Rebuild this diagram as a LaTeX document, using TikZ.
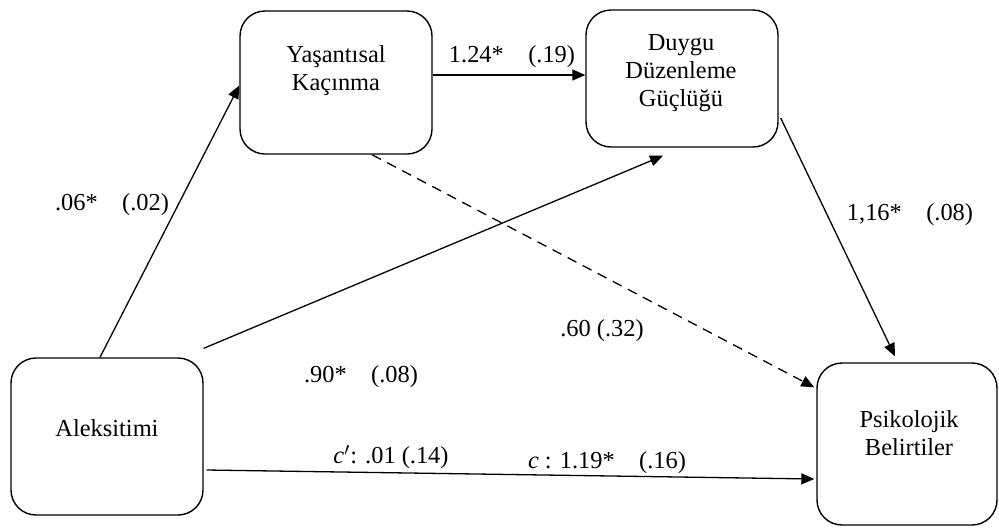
\documentclass[tikz,border=0pt]{standalone}
\usepackage{fontspec}
\setmainfont{Liberation Serif}
\usetikzlibrary{arrows.meta,positioning,calc}

\tikzset{
  kutu/.style={draw, line width=0.7pt, rounded corners=12.5pt, inner sep=0pt},
  ok/.style={line width=0.65pt, -{Triangle[length=6.5pt,width=5.5pt]}},
  yazi/.style={inner sep=0pt, align=center},
}

\begin{document}
\begin{tikzpicture}[x=0.5pt, y=-0.5pt, font=\fontsize{12.2}{14}\selectfont]
    \useasboundingbox (0,0) rectangle (999,527);
    % kutular
    \node[kutu, minimum width=96pt, minimum height=71.5pt] (yk) at (336,82.5) {};
    \node[kutu, minimum width=96pt, minimum height=68.5pt] (ddg) at (682,78.5) {};
    \node[kutu, minimum width=96pt, minimum height=78.5pt] (al) at (107,436.5) {};
    \node[kutu, minimum width=90pt, minimum height=81pt] (pb) at (907,444) {};
    \node[yazi] (ykyazi) at (336,71) {Yaşantısal\\Kaçınma};
    \node[yazi] (ddgyazi) at (681,73) {Duygu\\Düzenleme\\Güçlüğü};
    \node[yazi] (alyazi) at (107,428) {Aleksitimi};
    \node[yazi] (pbyazi) at (909,433.5) {Psikolojik\\Belirtiler};

    % oklar
    \draw[ok] ([xshift=-3.5pt]al.north) -- ([yshift=-1.5pt]yk.west);
    \draw[ok] ([yshift=3.75pt]yk.east) -- ([yshift=3.75pt]yk.east -| ddg.west);
    \draw[ok] ([yshift=4.5pt]al.north east) -- ([xshift=-9.5pt,yshift=-4pt]ddg.south);
    \draw[ok, dash pattern=on 5pt off 3.5pt] ([xshift=18pt]yk.south) -- ([xshift=-1pt,yshift=-12.5pt]pb.north west);
    \draw[ok] ([xshift=1pt,yshift=-19.75pt]ddg.east) -- ([xshift=-6pt,yshift=3pt]pb.north);
    \draw[ok] ([xshift=1.5pt,yshift=-16.75pt]al.east) -- ([xshift=-1pt,yshift=-17.5pt]pb.west);

    % katsayilar
    \node[yazi] (a1) at (112,205) {.06*\quad(.02)};
    \node[yazi] (a2) at (512,57) {1.24*\quad(.19)};
    \node[yazi] (a3) at (910,215) {1,16*\quad(.08)};
    \node[yazi] (a4) at (602,331) {.60 (.32)};
    \node[yazi] (a5) at (361,377) {.90*\quad(.08)};
    \node[yazi] (a6) at (391,457) {\textit{c}$'$: .01 (.14)};
    \node[yazi] (a7) at (607,463) {\textit{c} : 1.19*\quad(.16)};
\end{tikzpicture}
\end{document}
